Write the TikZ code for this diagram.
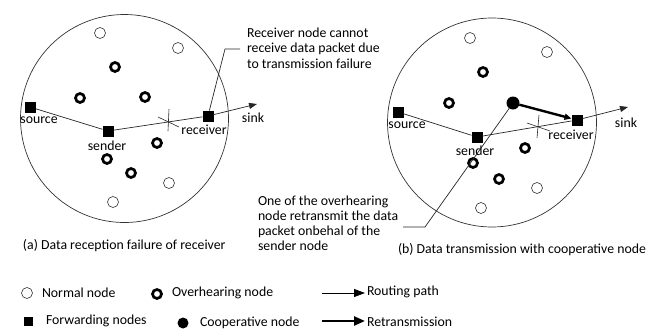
\documentclass[tikz,border=0pt]{standalone}
\usepackage{fontspec}
\setmainfont{Carlito}
\usetikzlibrary{arrows.meta}
\begin{document}
\begin{tikzpicture}[x=1pt,y=-1pt,
  every node/.style={inner sep=0pt, outer sep=0pt},
  bigc/.style={draw=black!80, line width=0.7pt},
  normal/.style={circle, draw=black!80, line width=0.6pt, minimum size=11pt},
  overh/.style={circle, draw=black, line width=2.7pt, minimum size=9pt},
  fwd/.style={rectangle, fill=black, minimum size=11pt},
  lfwd/.style={rectangle, fill=black, minimum size=9pt},
  coop/.style={circle, fill=black, minimum size=13pt},
  lcoop/.style={circle, fill=black, minimum size=11pt},
  lbl/.style={font=\fontsize{13.8}{15.5}\selectfont, text=black},
  route/.style={draw=black!85, line width=0.7pt},
  routearrow/.style={route, -{Triangle[length=8pt,width=6pt]}},
  retrans/.style={draw=black, line width=2.4pt, -{Triangle[length=7pt,width=6pt]}},
  thinl/.style={draw=black!85, line width=0.6pt},
  callout/.style={draw=black!85, line width=0.7pt},
  lroute/.style={draw=black, line width=0.8pt, -{Triangle[length=11pt,width=8pt]}},
  lretrans/.style={draw=black, line width=2.4pt, -{Triangle[length=11pt,width=9pt]}}
]
\useasboundingbox (0,0) rectangle (662,330);

% ---------------- left diagram ----------------
\draw[bigc] (124.5,118.5) circle (104);
\node[normal] (nL1) at (100,33) {};
\node[normal] (nL2) at (178,48) {};
\node[normal] (nL3) at (169,183) {};
\node[normal] (nL4) at (113,202) {};
\node[overh] (oL1) at (115,67) {};
\node[overh] (oL2) at (80,98) {};
\node[overh] (oL3) at (145,97) {};
\node[overh] (oL4) at (157,143) {};
\node[overh] (oL5) at (107,159) {};
\node[overh] (oL6) at (131,173) {};
\node[fwd] (srcL) at (30,107) {};
\node[fwd] (sndL) at (108,131) {};
\node[fwd] (rcvL) at (208,116) {};
\coordinate (sinkL) at (257,104);
\draw[route] (srcL) -- (sndL) -- (rcvL);
\draw[routearrow] (rcvL) -- (sinkL);
\node[lbl] (srcLt) at (39,120) {source};
\node[lbl] (sndLt) at (107,146) {sender};
\node[lbl] (rcvLt) at (204,130) {receiver};
\node[lbl] (sinkLt) at (253,118) {sink};
\coordinate (xL1) at (158,117); \coordinate (xL2) at (179,127);
\coordinate (xL3) at (169,109); \coordinate (xL4) at (168,131);
\draw[thinl] (xL1) -- (xL2) (xL3) -- (xL4);
\coordinate (cL1) at (225,49); \coordinate (cL2) at (240,49);
\draw[callout] (rcvL) -- (cL1) -- (cL2);
\node[lbl, align=left, anchor=north west] (noteL) at (247,27.5)
  {Receiver node cannot\\receive data packet due\\to transmission failure};
\node[lbl, anchor=west] (capA) at (23,246) {(a) Data reception failure of receiver};

% ---------------- right diagram ----------------
\draw[bigc] (492,122.5) circle (104.5);
\node[normal] (nR1) at (470,38) {};
\node[normal] (nR2) at (547,52) {};
\node[normal] (nR3) at (537,188) {};
\node[normal] (nR4) at (481,208) {};
\node[overh] (oR1) at (483,72) {};
\node[overh] (oR2) at (449,103) {};
\node[overh] (oR3) at (525,148) {};
\node[overh] (oR4) at (473,163) {};
\node[overh] (oR5) at (499,179) {};
\node[coop] (coopR) at (513,103) {};
\node[fwd] (srcR) at (398,112) {};
\node[fwd] (sndR) at (477,137) {};
\node[fwd] (rcvR) at (577,120) {};
\coordinate (sinkR) at (628,107);
\draw[route] (srcR) -- (sndR) -- (rcvR);
\draw[routearrow] (rcvR) -- (sinkR);
\draw[retrans] (coopR) -- (rcvR);
\node[lbl] (srcRt) at (407,125) {source};
\node[lbl] (sndRt) at (475,151) {sender};
\node[lbl] (rcvRt) at (571,135) {receiver};
\node[lbl] (sinkRt) at (626,123) {sink};
\coordinate (xR1) at (527,123); \coordinate (xR2) at (550,131);
\coordinate (xR3) at (539,115); \coordinate (xR4) at (537,138);
\draw[thinl] (xR1) -- (xR2) (xR3) -- (xR4);
\coordinate (cR1) at (425,227); \coordinate (cR2) at (403,227);
\draw[callout] (coopR) -- (cR1) -- (cR2);
\node[lbl, align=left, anchor=north west, font=\fontsize{13.8}{15}\selectfont] (noteR) at (258,195.5)
  {One of the overhearing\\node retransmit the data\\packet onbehal of the\\sender node};
\node[lbl, anchor=west] (capB) at (398,250) {(b) Data transmission with cooperative node};

% ---------------- legend ----------------
\node[normal] (lgN) at (27,293) {};
\node[lbl, anchor=west] (lgNt) at (42,293) {Normal node};
\node[overh] (lgO) at (157,294) {};
\node[lbl, anchor=west] (lgOt) at (172,293) {Overhearing node};
\coordinate (lgR1) at (322,293); \coordinate (lgR2) at (365,293);
\draw[lroute] (lgR1) -- (lgR2);
\node[lbl, anchor=west] (lgRt) at (367,292) {Routing path};
\node[lfwd] (lgF) at (28,321) {};
\node[lbl, anchor=west] (lgFt) at (46,321) {Forwarding nodes};
\node[lcoop] (lgC) at (183,323) {};
\node[lbl, anchor=west] (lgCt) at (200,323) {Cooperative node};
\coordinate (lgT1) at (322,321); \coordinate (lgT2) at (365,321);
\draw[lretrans] (lgT1) -- (lgT2);
\node[lbl, anchor=west] (lgTt) at (367,322) {Retransmission};
\end{tikzpicture}
\end{document}
